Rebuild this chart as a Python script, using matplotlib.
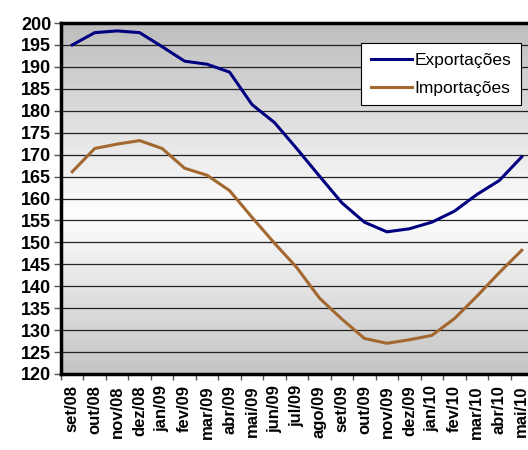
import numpy as np
import matplotlib.pyplot as plt
from matplotlib.colors import LinearSegmentedColormap

# data
months = ["set/08", "out/08", "nov/08", "dez/08", "jan/09", "fev/09", "mar/09",
          "abr/09", "mai/09", "jun/09", "jul/09", "ago/09", "set/09", "out/09",
          "nov/09", "dez/09", "jan/10", "fev/10", "mar/10", "abr/10", "mai/10"]
exportacoes = [195.0, 197.8, 198.2, 197.8, 194.6, 191.3, 190.6, 188.8, 181.4,
               177.3, 171.3, 165.1, 159.0, 154.6, 152.4, 153.1, 154.6, 157.1,
               160.9, 164.1, 169.5]
importacoes = [166.1, 171.4, 172.4, 173.2, 171.4, 166.9, 165.3, 161.8, 155.7,
               149.8, 144.2, 137.3, 132.5, 128.1, 127.0, 127.8, 128.8, 132.6,
               137.7, 143.1, 148.2]
y_ticks = list(range(120, 201, 5))

plt.rcParams['font.family'] = ['Liberation Sans', 'DejaVu Sans']

W, H = 528, 450
fig = plt.figure(figsize=(W / 100, H / 100), dpi=100)
# plot area runs past the right edge, like the cropped original
ax = fig.add_axes([61 / W, (H - 374) / H, 472 / W, 351 / H])

x = np.arange(len(months))

# grey-white-grey vertical gradient background
cmap = LinearSegmentedColormap.from_list(
    "bg", [(0.0, "#c4c4c4"), (0.46, "#ffffff"), (1.0, "#bdbdbd")])
grad = np.linspace(0, 1, 256).reshape(-1, 1)
ax.imshow(grad, cmap=cmap, aspect="auto", origin="lower",
          extent=[-0.5, len(months) - 0.5, 120, 200], zorder=0)

for v in y_ticks[1:-1]:
    ax.axhline(v, color="#222222", lw=0.9, zorder=1)

ax.plot(x, exportacoes, color="#000080", lw=2.2, label="Exportações", zorder=3)
ax.plot(x, importacoes, color="#a3682f", lw=2.2, label="Importações", zorder=3)

ax.set_xlim(-0.5, len(months) - 0.5)
ax.set_ylim(120, 200)
ax.set_yticks(y_ticks)
ax.set_yticklabels([str(v) for v in y_ticks], fontsize=13, fontweight="bold")
ax.tick_params(axis="y", length=5, width=1, color="#555555", pad=2)

ax.set_xticks(x)
ax.set_xticklabels(months, rotation=90, fontsize=12, fontweight="bold")
ax.set_xticks(np.arange(-0.5, len(months)), minor=True)
ax.tick_params(axis="x", which="major", length=0, pad=8)
ax.tick_params(axis="x", which="minor", length=4, width=1, color="#555555")

for side in ["left", "bottom", "top"]:
    ax.spines[side].set_linewidth(2.5)
    ax.spines[side].set_color("black")
ax.spines["right"].set_visible(False)

leg = ax.legend(loc="upper left", bbox_to_anchor=(300 / 472, 331 / 351),
                fontsize=12.5, frameon=True, fancybox=False, edgecolor="black",
                handlelength=2.4, handletextpad=0.15, borderpad=0.55,
                labelspacing=0.75, borderaxespad=0)
leg.get_frame().set_linewidth(0.8)
leg.get_frame().set_facecolor("white")
leg.get_frame().set_alpha(1)

fig.savefig("out.png", dpi=100)
